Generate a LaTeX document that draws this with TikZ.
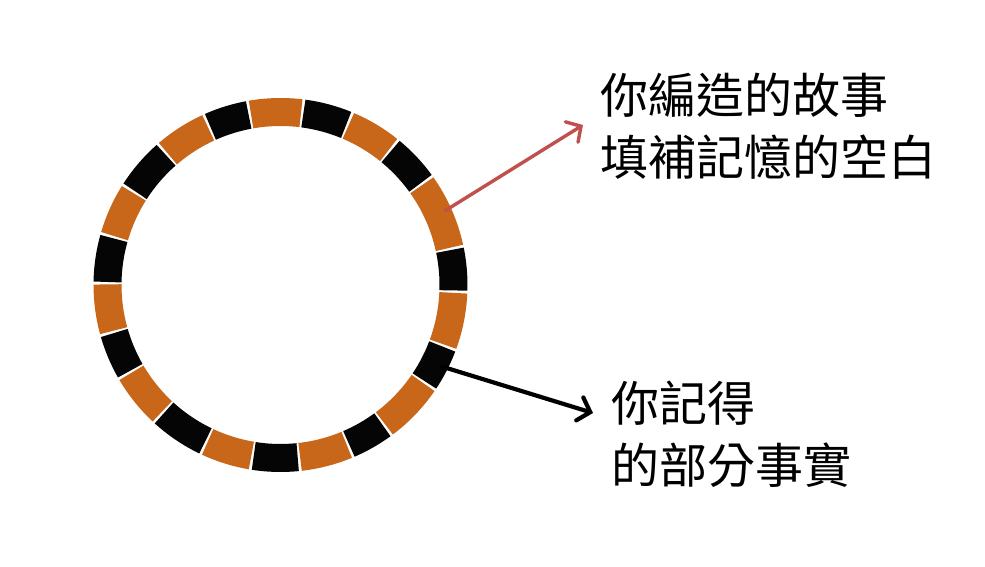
\documentclass[tikz,border=0pt]{standalone}
\usepackage{fontspec}
\newfontfamily\cjkfont{Noto Sans CJK TC}
\usetikzlibrary{arrows.meta}
\definecolor{ringorange}{RGB}{200,102,26}
\definecolor{ringblack}{RGB}{5,5,5}
\definecolor{arrowred}{RGB}{192,80,77}
\tikzset{
  seg/.style={line width=28pt},
  label/.style={inner sep=0pt, anchor=west, align=left, font=\cjkfont\fontsize{48}{62}\selectfont},
  redarrow/.style={draw=arrowred, line width=3.4pt, line cap=round, -{Straight Barb[length=11pt,width=24pt,line cap=round]}},
  blackarrow/.style={draw=black, line width=4.2pt, line cap=round, -{Straight Barb[length=11pt,width=24pt,line cap=round]}}
}
\begin{document}
\begin{tikzpicture}[x=1pt,y=1pt]
\useasboundingbox[fill=white] (0,0) rectangle (985,566);
\coordinate (c) at (280.5,281);
\foreach \a/\b/\col in {
  82.8/100.2/ringorange, 67.3/82.8/ringblack, 50.9/67.3/ringorange,
  35.6/50.9/ringblack, 12/35.6/ringorange, -2.2/12/ringblack,
  -20.4/-2.2/ringorange, -34.1/-20.4/ringblack, -53.5/-34.1/ringorange,
  -67.1/-53.5/ringblack, -83.9/-67.1/ringorange, -99.3/-83.9/ringblack,
  -115.3/-99.3/ringorange, -132.7/-115.3/ringblack, -149.9/-132.7/ringorange,
  -164.3/-149.9/ringblack, -180.6/-164.3/ringorange, -196/-180.6/ringblack,
  -212.4/-196/ringorange, -229/-212.4/ringblack, -245.7/-229/ringorange,
  -259.8/-245.7/ringblack}
{
  \pgfmathsetmacro{\aa}{\a+0.4}
  \pgfmathsetmacro{\bb}{\b-0.4}
  \draw[seg, draw=\col] ([shift={(\aa:173)}]c) arc[start angle=\aa, end angle=\bb, radius=173];
}
\coordinate (redstart) at ([shift={(24.3:181)}]c);
\coordinate (blackstart) at ([shift={(-26.8:181)}]c);
\coordinate (redtip) at (583,441);
\coordinate (blacktip) at (593,153);
\draw[redarrow] (redstart) -- (redtip);
\draw[blackarrow] (blackstart) -- (blacktip);
\node[label] (story) at (600,440) {你編造的故事\\填補記憶的空白};
\node[label] (facts) at (611,132) {你記得\\的部分事實};
\end{tikzpicture}
\end{document}
